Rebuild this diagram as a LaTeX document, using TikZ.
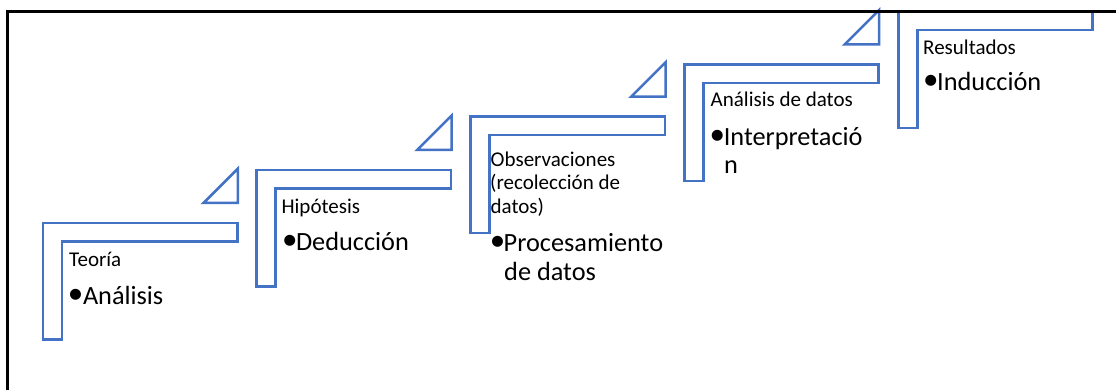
\documentclass[tikz,border=0pt]{standalone}
\usepackage{fontspec}
\setmainfont{Carlito}
\definecolor{accent}{HTML}{4472C4}
\tikzset{
  lshape/.style={draw=accent,line width=2.5pt,line join=miter},
  tri/.style={draw=accent,line width=2.5pt,line join=miter},
  frame/.style={draw=black,line width=3.2pt},
  small/.style={anchor=base west,inner sep=0pt,font=\fontsize{21}{25}\selectfont},
  big/.style={anchor=base west,inner sep=0pt,font=\fontsize{26.3}{30}\selectfont},
  bul/.style={anchor=base,inner sep=0pt,font=\fontsize{31}{32}\selectfont},
}
\newcommand{\myL}[2]{%
  \draw[lshape] (#1,#2) -- ++(194.3,0) -- ++(0,18.5) -- ++(-175.3,0) -- ++(0,98) -- ++(-19,0) -- cycle;}
\newcommand{\myT}[2]{%
  \draw[tri] (#1,#2) ++(194.8,-20) -- ++(-34.3,0) -- ++(34.3,-34.3) -- cycle;}
\begin{document}
\begin{tikzpicture}[x=1pt,y=-1pt]
\useasboundingbox (0,0) rectangle (1116,390);
% shapes
\myL{43}{223}\myT{43}{223}
\myL{256.7}{170}\myT{256.7}{170}
\myL{470.7}{116.7}\myT{470.7}{116.7}
\myL{684.3}{64.3}\myT{684.3}{64.3}
\myL{898.3}{11.3}
% step 1
\node[small] (t1) at (69,266.7) {Teoría};
\node[bul] (b1) at (75.5,303) {•};
\node[big] (a1) at (82.8,304) {Análisis};
% step 2
\node[small] (t2) at (281.4,213.3) {Hipótesis};
\node[bul] (b2) at (289.8,249.7) {•};
\node[big] (a2) at (295.8,250.7) {Deducción};
% step 3
\node[small] (t3a) at (490.5,166.7) {Observaciones};
\node[small] (t3b) at (490,190) {(recolección de};
\node[small] (t3c) at (490.5,213.3) {datos)};
\node[bul] (b3) at (497.5,250.7) {•};
\node[big] (a3a) at (503.5,251.7) {Procesamiento};
\node[big] (a3b) at (504,280) {de datos};
% step 4
\node[small] (t4) at (710.5,106.7) {Análisis de datos};
\node[bul] (b4) at (717.3,144.7) {•};
\node[big] (a4a) at (723.6,145.7) {Interpretació};
\node[big] (a4b) at (723.8,173.3) {n};
% step 5
\node[small] (t5) at (923,54.3) {Resultados};
\node[bul] (b5) at (930.8,90) {•};
\node[big] (a5) at (937,91) {Inducción};
% frame
\draw[frame] (7.5,390) -- (7.5,11.6) -- (1116,11.6);
\end{tikzpicture}
\end{document}
